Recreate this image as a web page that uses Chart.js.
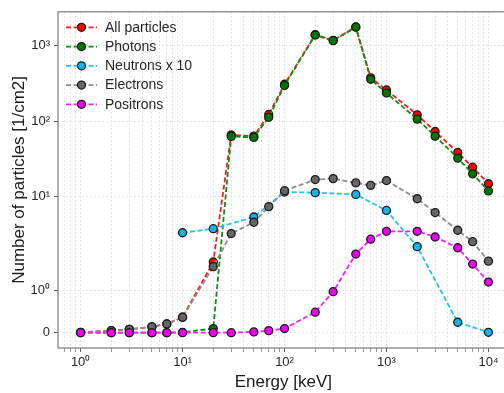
<!DOCTYPE html>
<html>
<head>
<meta charset="utf-8">
<script src="https://cdn.jsdelivr.net/npm/chart.js@4.4.1/dist/chart.umd.min.js"></script>
<style>
    html, body { margin: 0; padding: 0; background: #fff; overflow: hidden; }
    #wrap { width: 514px; height: 393px; }
</style>
</head>
<body>
<div id="wrap"><canvas id="particleChart" width="514" height="393"></canvas></div>
<script>
const energies = [1, 2, 3, 5, 7, 10, 20, 30, 50, 70, 100, 200, 300, 500, 700, 1000, 2000, 3000, 5000, 7000, 10000];
const neutronEnergies = [10, 20, 50, 100, 200, 500, 1000, 2000, 5000, 10000];

const allParticles = [0.01, 0.05, 0.08, 0.14, 0.21, 0.37, 1.69, 65.3, 63, 122, 308, 1400, 1180, 1775, 374, 258, 121, 72.6, 38.3, 24.4, 14.7];
const photons = [0, 0, 0, 0, 0, 0.01, 0.1, 62.4, 60.5, 112, 296, 1386, 1166, 1760, 358, 235, 106, 63, 32.2, 19.9, 11.8];
const neutronsX10 = [3.29, 3.72, 5.32, 11.4, 11.2, 10.6, 6.5, 2.15, 0.25, 0.01];
const electrons = [0.01, 0.05, 0.08, 0.14, 0.21, 0.37, 1.58, 3.21, 4.53, 7.31, 11.9, 16.7, 17.2, 15.1, 14.0, 16.2, 9.3, 6.1, 3.55, 2.5, 1.71];
const positrons = [0, 0, 0, 0, 0, 0, 0, 0, 0.02, 0.05, 0.1, 0.49, 0.98, 1.88, 2.7, 3.44, 3.44, 2.89, 2.08, 1.64, 1.21];

const xMajorTicks = [1, 10, 100, 1000, 10000];
const xTickLabels = ['10⁰', '10¹', '10²', '10³', '10⁴'];
const yTicks = [0, 1, 10, 100, 1000];
const yTickLabels = ['0', '10⁰', '10¹', '10²', '10³'];

const FONT = "'Liberation Sans', Arial, sans-serif";

// symlog like matplotlib (linthresh 2, linscale 1)
const LINTHRESH = 2;
const LINSCALE = 1 / (1 - 1 / 10);

function symlog(v) {
    const a = Math.abs(v);
    if (a <= LINTHRESH) return v * LINSCALE;
    return Math.sign(v) * LINTHRESH * (LINSCALE + Math.log10(a / LINTHRESH));
}

function symexp(t) {
    const a = Math.abs(t);
    if (a <= LINTHRESH * LINSCALE) return t / LINSCALE;
    return Math.sign(t) * LINTHRESH * Math.pow(10, a / LINTHRESH - LINSCALE);
}

class SymlogScale extends Chart.LinearScale {
    determineDataLimits() {
        this.min = this.options.min;
        this.max = this.options.max;
    }
    buildTicks() {
        return yTicks.map(v => ({ value: v }));
    }
    configure() {
        super.configure();
        this._startValue = symlog(this.min);
        this._endValue = symlog(this.max);
        this._valueRange = this._endValue - this._startValue;
    }
    getPixelForValue(value) {
        return this.getPixelForDecimal((symlog(value) - this._startValue) / this._valueRange);
    }
    getValueForPixel(pixel) {
        return symexp(this.getDecimalForPixel(pixel) * this._valueRange + this._startValue);
    }
}
SymlogScale.id = 'symlog';
SymlogScale.defaults = Chart.LinearScale.defaults;
Chart.register(SymlogScale);

// log grid: 1..9 x 10^k inside the axis range
const xGridTicks = [];
for (let e = -1; e <= 4; e++) {
    for (let m = 1; m <= 9; m++) {
        const v = m * Math.pow(10, e);
        if (v >= 0.62 && v <= 15800) xGridTicks.push(v);
    }
}

const series = [
    { label: 'All particles', x: energies, y: allParticles, line: '#ff1a1a', fill: '#ff0000' },
    { label: 'Photons', x: energies, y: photons, line: '#118c11', fill: '#007800' },
    { label: 'Neutrons x 10', x: neutronEnergies, y: neutronsX10, line: '#1fc3f2', fill: '#12b4e6' },
    { label: 'Electrons', x: energies, y: electrons, line: '#8c8c8c', fill: '#666666' },
    { label: 'Positrons', x: energies, y: positrons, line: '#ff1aff', fill: '#ee00ee' }
];

const framePlugin = {
    id: 'frame',
    afterDatasetsDraw(chart) {
        const a = chart.chartArea;
        const ctx = chart.ctx;
        ctx.save();
        ctx.strokeStyle = '#7a7a7a';
        ctx.lineWidth = 1.2;
        ctx.strokeRect(a.left, a.top, a.right - a.left, a.bottom - a.top);
        ctx.restore();
    }
};

const legendPlugin = {
    id: 'innerLegend',
    afterDraw(chart) {
        const ctx = chart.ctx;
        ctx.save();
        series.forEach((s, i) => {
            const y = 27.3 + i * 19.25;
            ctx.strokeStyle = s.line;
            ctx.lineWidth = 1.8;
            ctx.setLineDash([5, 2.5]);
            ctx.beginPath();
            ctx.moveTo(66, y);
            ctx.lineTo(97, y);
            ctx.stroke();
            ctx.setLineDash([]);
            ctx.beginPath();
            ctx.arc(81.5, y, 4, 0, Math.PI * 2);
            ctx.fillStyle = s.fill;
            ctx.fill();
            ctx.lineWidth = 1.3;
            ctx.strokeStyle = '#1a1a1a';
            ctx.stroke();
            ctx.fillStyle = '#262626';
            ctx.font = '14px ' + FONT;
            ctx.textBaseline = 'middle';
            ctx.fillText(s.label, 105, y + 0.5);
        });
        ctx.restore();
    }
};

const ctx = document.getElementById('particleChart');

new Chart(ctx, {
    type: 'line',
    data: {
        datasets: series.map((s, i) => ({
            label: s.label,
            data: s.x.map((e, j) => ({ x: e, y: s.y[j] })),
            borderColor: s.line,
            borderWidth: 1.8,
            borderDash: [5, 2.5],
            backgroundColor: s.fill,
            pointBackgroundColor: s.fill,
            pointBorderColor: '#1a1a1a',
            pointBorderWidth: 1.3,
            pointRadius: 4,
            tension: 0,
            fill: false,
            order: series.length - i
        }))
    },
    options: {
        responsive: false,
        animation: false,
        devicePixelRatio: 1,
        layout: { padding: { top: 11, right: 0, left: 0, bottom: 0 } },
        plugins: {
            legend: { display: false },
            tooltip: { enabled: false }
        },
        scales: {
            x: {
                type: 'logarithmic',
                position: 'bottom',
                min: 0.62,
                max: 15800,
                afterBuildTicks: (scale) => {
                    scale.ticks = xGridTicks.map(v => ({ value: v, major: xMajorTicks.includes(v) }));
                },
                afterFit: (scale) => { scale.height = 45; },
                ticks: {
                    autoSkip: false,
                    maxRotation: 0,
                    padding: 3,
                    color: '#262626',
                    font: { family: FONT, size: 13 },
                    callback: (value) => {
                        const k = xMajorTicks.indexOf(value);
                        return k >= 0 ? xTickLabels[k] : '';
                    }
                },
                grid: {
                    color: '#dddddd',
                    lineWidth: 0.8,
                    tickLength: 4,
                    tickColor: '#555555',
                    tickWidth: (c) => (c.tick && xMajorTicks.includes(c.tick.value) ? 1 : 0.6),
                    tickBorderDash: []
                },
                border: { display: false, dash: [2, 2] },
                title: {
                    display: true,
                    text: 'Energy [keV]',
                    color: '#1a1a1a',
                    font: { family: FONT, size: 17 },
                    padding: { top: 0, bottom: 0 }
                }
            },
            y: {
                type: 'symlog',
                position: 'left',
                min: -0.365,
                max: 2818,
                afterFit: (scale) => { scale.width = 58; },
                ticks: {
                    autoSkip: false,
                    padding: 4,
                    color: '#262626',
                    font: { family: FONT, size: 13 },
                    callback: (value) => {
                        const k = yTicks.indexOf(value);
                        return k >= 0 ? yTickLabels[k] : '';
                    }
                },
                grid: {
                    color: '#dddddd',
                    lineWidth: 0.8,
                    tickLength: 4,
                    tickColor: '#555555',
                    tickWidth: 1,
                    tickBorderDash: []
                },
                border: { display: false, dash: [2, 2] },
                title: {
                    display: true,
                    text: 'Number of particles [1/cm2]',
                    color: '#1a1a1a',
                    font: { family: FONT, size: 17 },
                    padding: { top: 9, bottom: 0 }
                }
            }
        }
    },
    plugins: [framePlugin, legendPlugin]
});
</script>
</body>
</html>
